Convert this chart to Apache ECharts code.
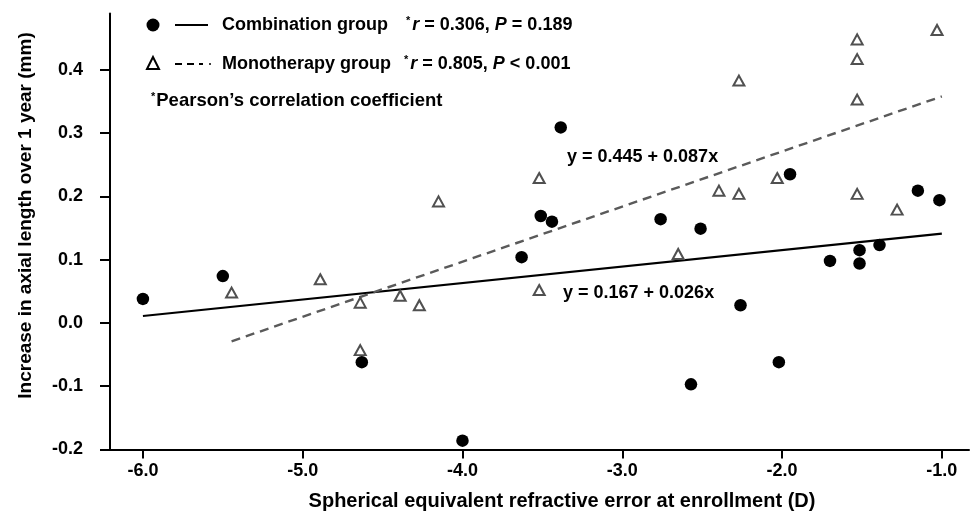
<!DOCTYPE html>
<html>
<head>
<meta charset="utf-8">
<script src="https://cdn.jsdelivr.net/npm/echarts@6/dist/echarts.min.js"></script>
<style>
  html, body { margin: 0; padding: 0; background: #fff; }
  #chart { width: 971px; height: 528px; }
</style>
</head>
<body>
<div id="chart"></div>
<script>
// Combination group (filled circles): [SE (D), AL increase (mm)]
const combinationX = [-6.0, -5.5, -4.63, -4.0, -3.63, -3.51, -3.44, -3.385, -2.76, -2.57, -2.51, -2.26, -2.02, -1.95, -1.70, -1.515, -1.515, -1.39, -1.15, -1.015];
const combinationY = [0.038, 0.074, -0.062, -0.186, 0.104, 0.169, 0.160, 0.309, 0.164, -0.097, 0.149, 0.028, -0.062, 0.235, 0.098, 0.115, 0.094, 0.123, 0.209, 0.194];

// Monotherapy group (open triangles)
const monotherapyX = [-5.445, -4.89, -4.64, -4.64, -4.39, -4.27, -4.15, -3.52, -3.52, -2.65, -2.395, -2.27, -2.27, -2.03, -1.53, -1.53, -1.53, -1.53, -1.28, -1.03];
const monotherapyY = [0.048, 0.069, 0.032, -0.043, 0.043, 0.028, 0.192, 0.229, 0.052, 0.109, 0.209, 0.204, 0.383, 0.229, 0.448, 0.417, 0.353, 0.204, 0.179, 0.463];

// Regression line end points
const combinationFitX = [-6.0, -1.0];
const combinationFitY = [0.011, 0.141];
const monotherapyFitX = [-5.445, -1.0];
const monotherapyFitY = [-0.029, 0.358];

// Tick values
const xTicks = [-6, -5, -4, -3, -2, -1];
const yTicks = [-0.2, -0.1, 0.0, 0.1, 0.2, 0.3, 0.4];

const xTitle = 'Spherical equivalent refractive error at enrollment (D)';
const yTitle = 'Increase in axial length over 1 year (mm)';
const comboEq = 'y = 0.167 + 0.026x';
const monoEq = 'y = 0.445 + 0.087x';

const zip = (a, b) => a.map((v, i) => [v, b[i]]);
const FONT = "'Liberation Sans', Arial, sans-serif";

const chart = echarts.init(document.getElementById('chart'), null, { renderer: 'canvas' });

const option = {
  backgroundColor: '#ffffff',
  animation: false,
  grid: { left: 110, right: 2, top: 13.5, bottom: 78.5, containLabel: false },
  xAxis: {
    type: 'value',
    min: -6.206,
    max: -0.83,
    splitLine: { show: false },
    axisLine: { onZero: false, lineStyle: { color: '#000', width: 2 } },
    axisTick: { show: true, length: 9, inside: false, customValues: xTicks, lineStyle: { color: '#000', width: 2 } },
    axisLabel: {
      customValues: xTicks,
      margin: 13,
      color: '#000',
      fontFamily: FONT,
      fontWeight: 'bold',
      fontSize: 18,
      formatter: v => v.toFixed(1)
    },
    name: xTitle,
    nameLocation: 'middle',
    nameGap: 42,
    nameTextStyle: { color: '#000', fontFamily: FONT, fontWeight: 'bold', fontSize: 20, padding: [0, 0, 0, 45] }
  },
  yAxis: {
    type: 'value',
    min: -0.2,
    max: 0.489,
    splitLine: { show: false },
    axisLine: { onZero: false, lineStyle: { color: '#000', width: 2 } },
    axisTick: { show: true, length: 10, inside: false, customValues: yTicks, lineStyle: { color: '#000', width: 2 } },
    axisLabel: {
      customValues: yTicks,
      margin: 27,
      color: '#000',
      fontFamily: FONT,
      fontWeight: 'bold',
      fontSize: 18,
      formatter: v => v.toFixed(1)
    },
    name: yTitle,
    nameLocation: 'middle',
    nameGap: 75,
    nameRotate: 90,
    nameTextStyle: { color: '#000', fontFamily: FONT, fontWeight: 'bold', fontSize: 19, padding: [0, 0, 0, 32] }
  },
  series: [
    {
      name: 'Combination fit',
      type: 'line',
      data: zip(combinationFitX, combinationFitY),
      showSymbol: false,
      symbol: 'none',
      lineStyle: { color: '#000', width: 2.2 },
      z: 2
    },
    {
      name: 'Monotherapy fit',
      type: 'line',
      data: zip(monotherapyFitX, monotherapyFitY),
      showSymbol: false,
      symbol: 'none',
      lineStyle: { color: '#5a5a5a', width: 2.4, type: [9, 6] },
      z: 2
    },
    {
      name: 'Monotherapy group',
      type: 'scatter',
      data: zip(monotherapyX, monotherapyY),
      symbol: 'triangle',
      symbolSize: [11, 10],
      itemStyle: { color: '#fff', borderColor: '#505050', borderWidth: 2, opacity: 1 },
      z: 3
    },
    {
      name: 'Combination group',
      type: 'scatter',
      data: zip(combinationX, combinationY),
      symbol: 'circle',
      symbolSize: 12.5,
      itemStyle: { color: '#000', opacity: 1 },
      z: 4
    }
  ],
  graphic: [
    // legend row 1
    { type: 'circle', shape: { cx: 153, cy: 25, r: 6.5 }, style: { fill: '#000' } },
    { type: 'line', shape: { x1: 175, y1: 25, x2: 208, y2: 25 }, style: { stroke: '#000', lineWidth: 2 } },
    { type: 'text', x: 222, y: 25, style: { text: 'Combination group', font: 'bold 18px ' + FONT, fill: '#000', verticalAlign: 'middle' } },
    { type: 'text', x: 406, y: 25, style: {
        text: '{s|*}{i|r}{n| = 0.306, }{i|P}{n| = 0.189}', verticalAlign: 'middle', fill: '#000',
        rich: {
          s: { font: 'bold 11px ' + FONT, verticalAlign: 'top', padding: [0, 2, 8, 0] },
          i: { font: 'italic bold 18px ' + FONT },
          n: { font: 'bold 18px ' + FONT }
        } } },
    // legend row 2
    { type: 'polygon', shape: { points: [[153, 57], [147, 69], [159, 69]] }, style: { fill: '#fff', stroke: '#000', lineWidth: 2 } },
    { type: 'line', shape: { x1: 175, y1: 64, x2: 203, y2: 64 }, style: { stroke: '#000', lineWidth: 2, lineDash: [7, 5] } },
    { type: 'line', shape: { x1: 209, y1: 64, x2: 211, y2: 64 }, style: { stroke: '#000', lineWidth: 1.5 } },
    { type: 'text', x: 222, y: 64, style: { text: 'Monotherapy group', font: 'bold 18px ' + FONT, fill: '#000', verticalAlign: 'middle' } },
    { type: 'text', x: 404, y: 64, style: {
        text: '{s|*}{i|r}{n| = 0.805, }{i|P}{n| < 0.001}', verticalAlign: 'middle', fill: '#000',
        rich: {
          s: { font: 'bold 11px ' + FONT, verticalAlign: 'top', padding: [0, 2, 8, 0] },
          i: { font: 'italic bold 18px ' + FONT },
          n: { font: 'bold 18px ' + FONT }
        } } },
    // legend row 3
    { type: 'text', x: 151, y: 101, style: {
        text: '{s|*}{n|Pearson\u2019s correlation coefficient}', verticalAlign: 'middle', fill: '#000',
        rich: {
          s: { font: 'bold 11px ' + FONT, padding: [0, 1, 8, 0] },
          n: { font: 'bold 18.5px ' + FONT }
        } } },
    // regression equations
    { type: 'text', x: 567, y: 157, style: { text: monoEq, font: 'bold 18px ' + FONT, fill: '#000', verticalAlign: 'middle' } },
    { type: 'text', x: 563, y: 293, style: { text: comboEq, font: 'bold 18px ' + FONT, fill: '#000', verticalAlign: 'middle' } }
  ]
};

chart.setOption(option);
</script>
</body>
</html>
